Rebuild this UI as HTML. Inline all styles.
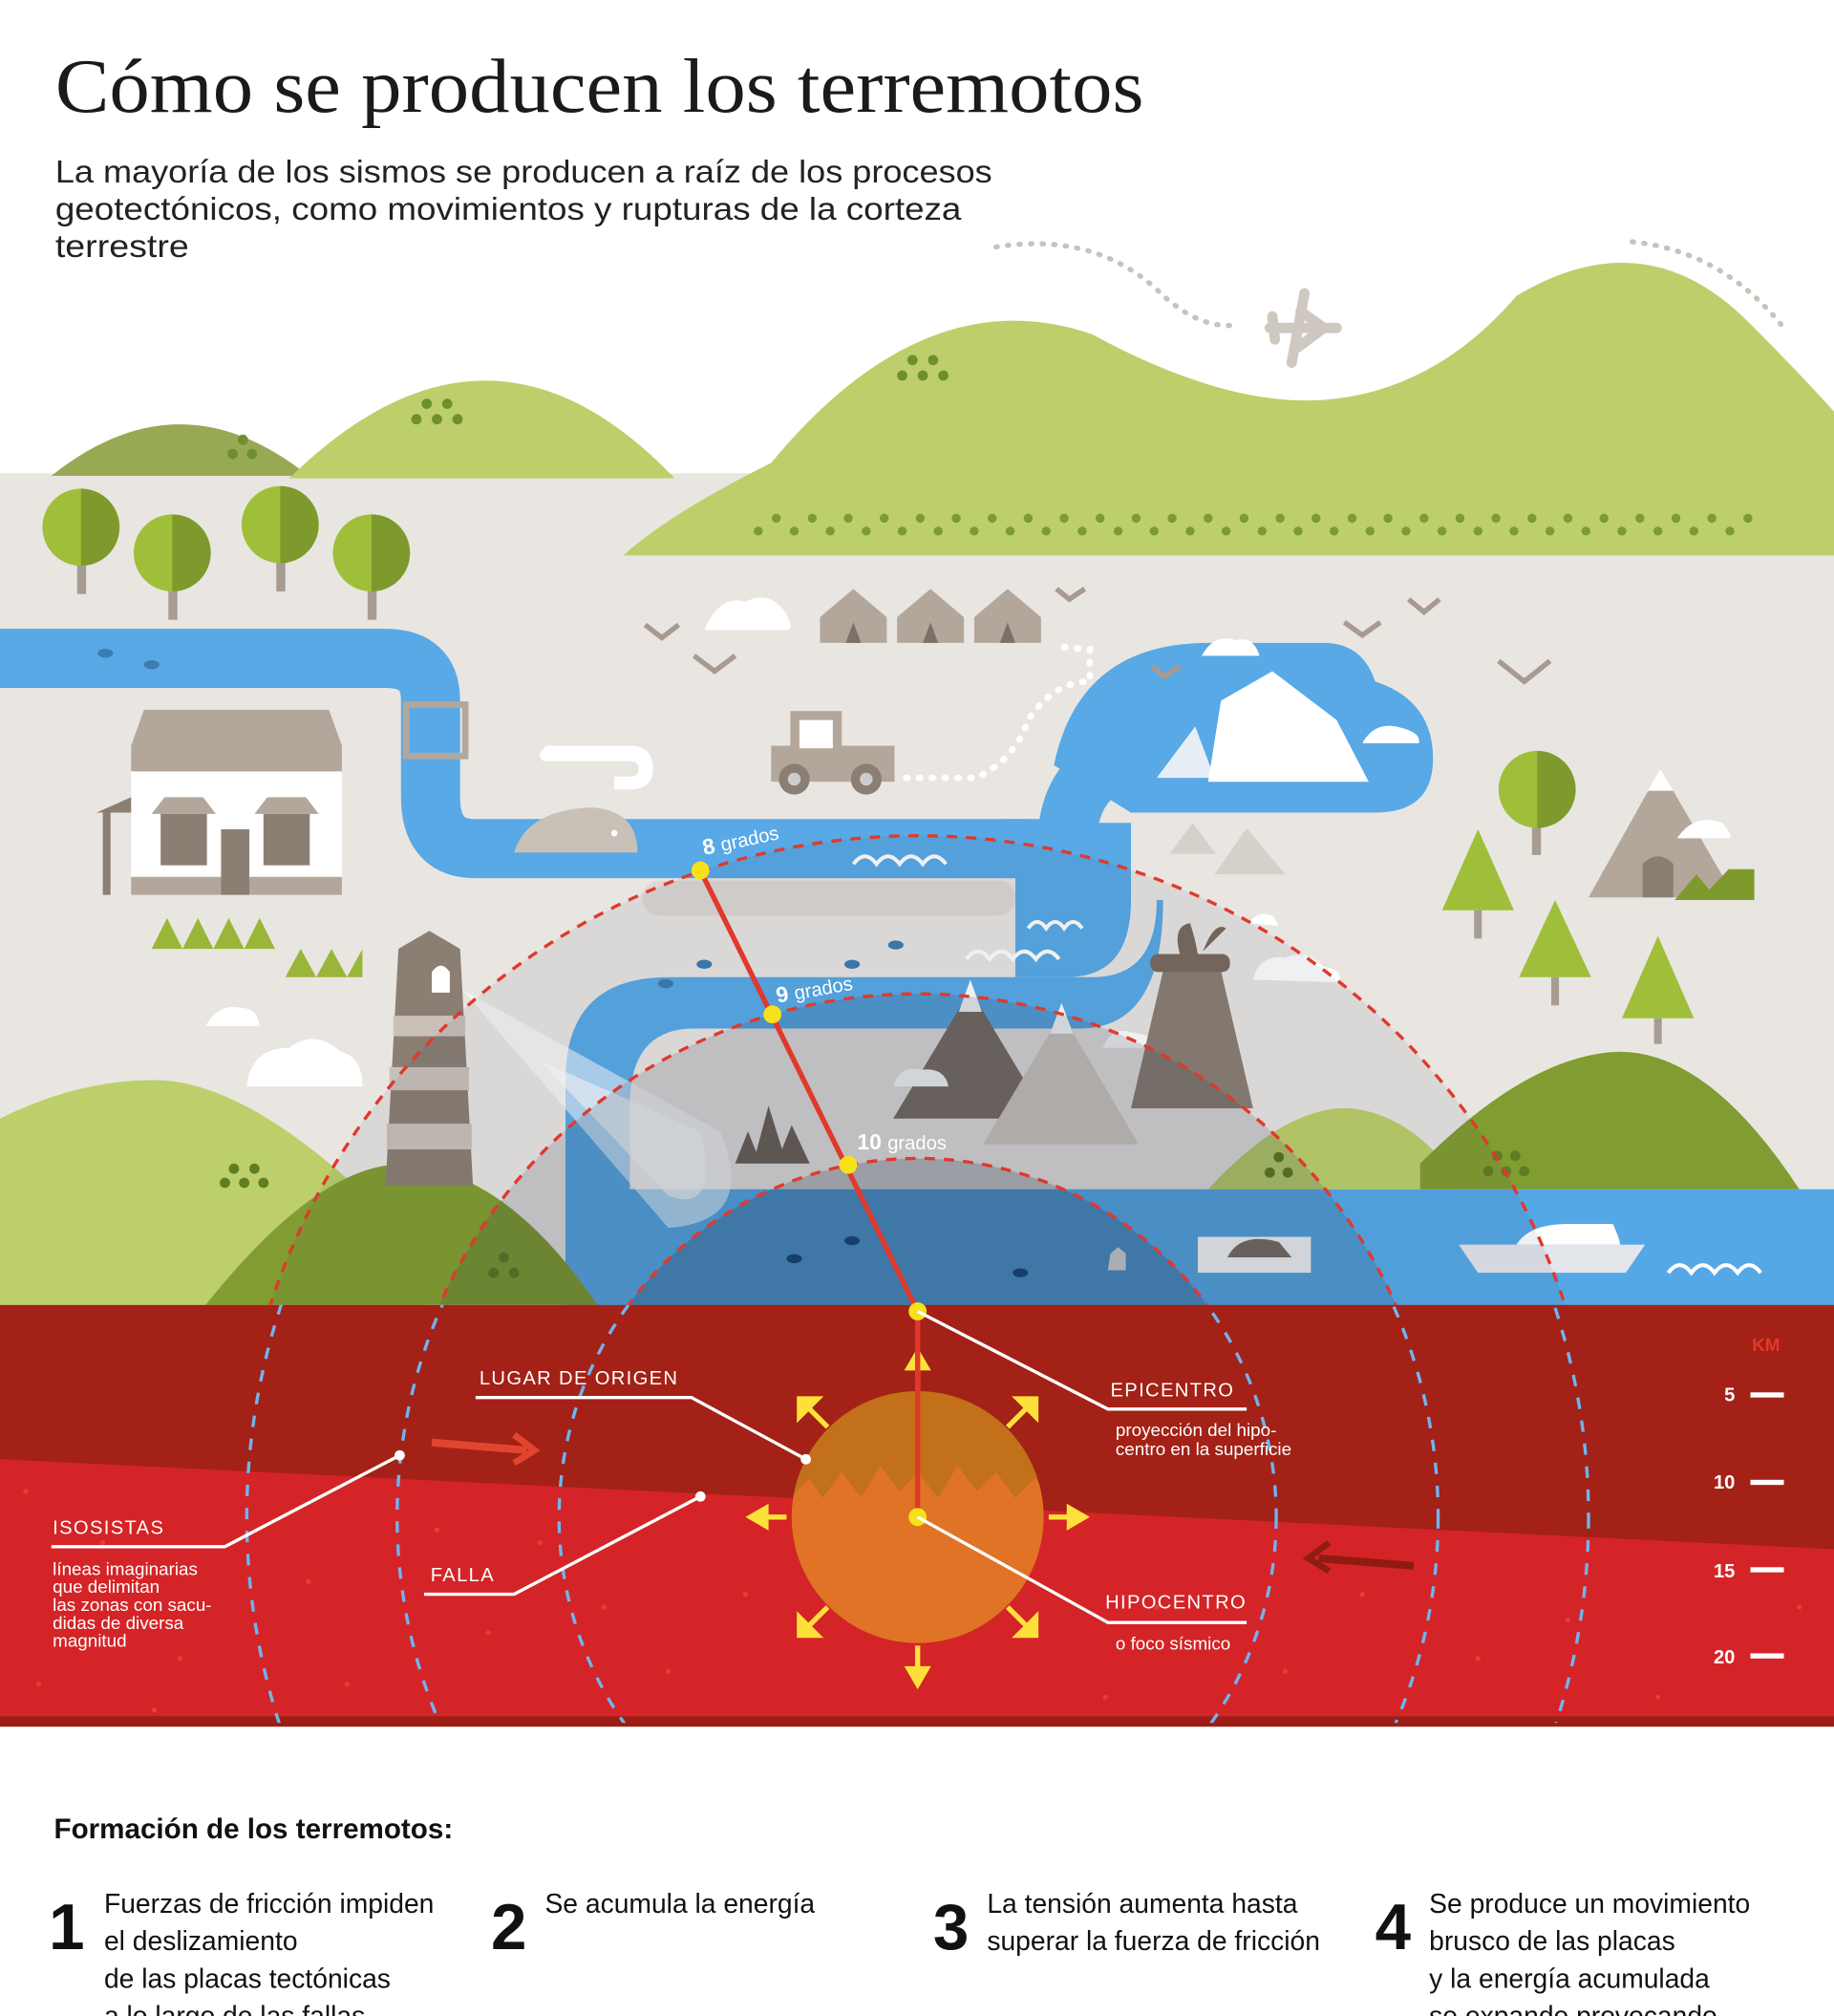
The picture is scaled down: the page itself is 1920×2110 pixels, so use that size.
<!DOCTYPE html>
<html><head><meta charset="utf-8"><style>
html,body{margin:0;padding:0;background:#fff;width:1920px;height:2110px;overflow:hidden}
svg{display:block}
.t{font-family:"Liberation Sans",sans-serif}
.n{font-family:"Liberation Sans Narrow","Liberation Sans",sans-serif}
</style></head><body>
<svg width="1920" height="2110" viewBox="0 0 1427 1568" xmlns="http://www.w3.org/2000/svg">
<defs>
<clipPath id="above"><rect x="0" y="0" width="1427" height="1015"/></clipPath>
<clipPath id="below"><rect x="0" y="1015" width="1427" height="325"/></clipPath>
<clipPath id="ball"><circle cx="714" cy="1180" r="98"/></clipPath>
</defs>
<rect width="1427" height="1568" fill="#fff"/>
<!-- title -->
<text x="43" y="87" font-family="Liberation Serif,serif" font-size="60" fill="#1a1a1a" textLength="847" lengthAdjust="spacingAndGlyphs">Cómo se producen los terremotos</text>
<text class="t" x="43" y="142" font-size="25" fill="#222" textLength="729" lengthAdjust="spacingAndGlyphs">La mayoría de los sismos se producen a raíz de los procesos</text>
<text class="t" x="43" y="171" font-size="25" fill="#222" textLength="705" lengthAdjust="spacingAndGlyphs">geotectónicos, como movimientos y rupturas de la corteza</text>
<text class="t" x="43" y="200" font-size="25" fill="#222" textLength="104" lengthAdjust="spacingAndGlyphs">terrestre</text>
<!-- dotted flight paths -->
<path d="M775 192 Q850 180 900 225 Q930 255 960 253" fill="none" stroke="#c9c2bb" stroke-width="4" stroke-dasharray="1 8" stroke-linecap="round"/>
<path d="M1270 188 Q1340 195 1388 255" fill="none" stroke="#c9c2bb" stroke-width="4" stroke-dasharray="1 8" stroke-linecap="round"/>
<path d="M988 255 L1040 255 M1015 228 L1005 282 M1012 242 L1030 255 L1010 270 M990 246 L992 264" stroke="#cfc8c1" stroke-width="8" stroke-linecap="round" fill="none"/>
<!-- ground beige -->
<rect x="0" y="368" width="1427" height="650" fill="#e9e6e2"/>
<!-- hills top -->
<path d="M40 370 Q140 290 240 370 Z" fill="#98a954"/>
<path d="M225 372 Q380 220 525 372 Z" fill="#bccf6a"/>
<path d="M485 432 Q520 400 600 360 Q720 215 850 260 Q960 320 1040 310 Q1120 300 1180 230 Q1280 170 1360 250 Q1400 290 1427 320 L1427 432 Z" fill="#bccf6a"/>
<g fill="#6f8f2e">
<circle cx="181" cy="353" r="4"/><circle cx="196" cy="353" r="4"/><circle cx="189" cy="342" r="4"/>
<circle cx="324" cy="326" r="4"/><circle cx="340" cy="326" r="4"/><circle cx="356" cy="326" r="4"/><circle cx="332" cy="314" r="4"/><circle cx="348" cy="314" r="4"/>
<circle cx="702" cy="292" r="4"/><circle cx="718" cy="292" r="4"/><circle cx="734" cy="292" r="4"/><circle cx="710" cy="280" r="4"/><circle cx="726" cy="280" r="4"/>
</g>
<!-- rows of dots -->
<g fill="#7c9a36">
<g id="r1">
<circle cx="590" cy="413" r="3.5"/><circle cx="604" cy="403" r="3.5"/><circle cx="618" cy="413" r="3.5"/><circle cx="632" cy="403" r="3.5"/><circle cx="646" cy="413" r="3.5"/><circle cx="660" cy="403" r="3.5"/><circle cx="674" cy="413" r="3.5"/><circle cx="688" cy="403" r="3.5"/><circle cx="702" cy="413" r="3.5"/><circle cx="716" cy="403" r="3.5"/><circle cx="730" cy="413" r="3.5"/><circle cx="744" cy="403" r="3.5"/><circle cx="758" cy="413" r="3.5"/><circle cx="772" cy="403" r="3.5"/><circle cx="786" cy="413" r="3.5"/><circle cx="800" cy="403" r="3.5"/><circle cx="814" cy="413" r="3.5"/><circle cx="828" cy="403" r="3.5"/><circle cx="842" cy="413" r="3.5"/><circle cx="856" cy="403" r="3.5"/><circle cx="870" cy="413" r="3.5"/><circle cx="884" cy="403" r="3.5"/><circle cx="898" cy="413" r="3.5"/><circle cx="912" cy="403" r="3.5"/><circle cx="926" cy="413" r="3.5"/><circle cx="940" cy="403" r="3.5"/><circle cx="954" cy="413" r="3.5"/><circle cx="968" cy="403" r="3.5"/>
</g>
<use href="#r1" x="392"/>
</g>
<!-- trees left -->
<g>
<rect x="60" y="420" width="7" height="42" fill="#a79c92"/><circle cx="63" cy="410" r="30" fill="#9fbf3a"/><path d="M63 380 A30 30 0 0 1 63 440 Z" fill="#7e9a2c"/>
<rect x="131" y="440" width="7" height="42" fill="#a79c92"/><circle cx="134" cy="430" r="30" fill="#9fbf3a"/><path d="M134 400 A30 30 0 0 1 134 460 Z" fill="#7e9a2c"/>
<rect x="215" y="418" width="7" height="42" fill="#a79c92"/><circle cx="218" cy="408" r="30" fill="#9fbf3a"/><path d="M218 378 A30 30 0 0 1 218 438 Z" fill="#7e9a2c"/>
<rect x="286" y="440" width="7" height="42" fill="#a79c92"/><circle cx="289" cy="430" r="30" fill="#9fbf3a"/><path d="M289 400 A30 30 0 0 1 289 460 Z" fill="#7e9a2c"/>
</g>
<!-- rivers -->
<g fill="none" stroke="#58a9e6" stroke-linejoin="round" stroke-linecap="butt">
<path d="M0 512 L300 512 Q335 512 335 545 L335 620 Q335 660 370 660 L800 660" stroke-width="46"/>
<path d="M780 660 L830 660 Q830 600 880 590 L1010 590" stroke-width="46"/>
</g>
<rect x="500" y="685" width="290" height="27" rx="13" fill="#dcd8d3"/>
<path d="M820 595 Q840 500 940 500 L1030 500 Q1060 500 1070 530 Q1115 545 1115 590 Q1115 632 1070 632 L880 632 Z" fill="#58a9e6"/>
<!-- lower water band -->
<rect x="440" y="925" width="987" height="92" fill="#55a8e6"/>
<path d="M440 840 Q440 760 520 760 L850 760 Q900 760 900 700 L905 700 Q905 800 840 800 L540 800 Q490 800 490 860 L490 1015 L440 1015 Z" fill="#58a9e6"/>
<path d="M790 640 L880 640 L880 700 Q880 760 830 760 L790 760 Z" fill="#58a9e6"/>
<rect x="500" y="685" width="290" height="27" rx="13" fill="#dcd8d3"/>
<!-- hills lower -->
<path d="M0 870 Q60 840 120 840 Q190 840 290 935 L330 1015 L0 1015 Z" fill="#bccf6a"/>
<path d="M160 1015 Q260 890 330 908 Q400 920 465 1015 Z" fill="#819c30"/>
<path d="M940 925 Q1000 860 1050 862 Q1100 866 1140 925 Z" fill="#bccf6a"/>
<path d="M1105 905 Q1190 820 1260 818 Q1330 818 1400 925 L1105 925 Z" fill="#819c30"/>
<g fill="#5f7d22"><circle cx="175" cy="920" r="4"/><circle cx="190" cy="920" r="4"/><circle cx="205" cy="920" r="4"/><circle cx="182" cy="909" r="4"/><circle cx="198" cy="909" r="4"/>
<circle cx="384" cy="990" r="4"/><circle cx="400" cy="990" r="4"/><circle cx="392" cy="978" r="4"/>
<circle cx="1158" cy="911" r="4"/><circle cx="1172" cy="911" r="4"/><circle cx="1186" cy="911" r="4"/><circle cx="1165" cy="899" r="4"/><circle cx="1179" cy="899" r="4"/>
<circle cx="988" cy="912" r="4"/><circle cx="1002" cy="912" r="4"/><circle cx="995" cy="900" r="4"/></g>
<!-- house -->
<rect x="102" y="600" width="164" height="96" fill="#fff"/>
<path d="M112 552 L256 552 L266 580 L266 600 L102 600 L102 580 Z" fill="#b3a79c"/>
<rect x="102" y="682" width="164" height="14" fill="#b3a79c"/>
<rect x="125" y="633" width="36" height="40" fill="#8b7e73"/><rect x="205" y="633" width="36" height="40" fill="#8b7e73"/>
<rect x="172" y="645" width="22" height="51" fill="#8b7e73"/>
<path d="M118 633 L128 620 L158 620 L168 633 Z M198 633 L208 620 L238 620 L248 633 Z" fill="#b3a79c"/>
<path d="M75 632 L102 620 L102 632 Z" fill="#8b7e73"/><rect x="80" y="632" width="6" height="64" fill="#8b7e73"/>
<rect x="316" y="548" width="46" height="40" fill="none" stroke="#b3a79c" stroke-width="5"/>
<path d="M118 738 L130 714 L142 738 L154 714 L166 738 L178 714 L190 738 L202 714 L214 738 Z" fill="#99b638"/>
<path d="M222 760 L234 738 L246 760 L258 738 L270 760 L282 738 L282 760 Z" fill="#99b638"/>
<!-- whale, clouds, tents, truck -->
<path d="M380 663 L400 663 Q410 630 460 628 Q496 630 496 663 Z" fill="#c9c0b8"/>
<circle cx="478" cy="648" r="2.5" fill="#fff"/>
<path d="M425 580 L490 580 Q508 580 508 598 Q508 614 490 614 L478 614 L478 604 L490 604 Q497 604 497 598 Q497 592 490 592 L425 592 Q420 592 420 586 Z" fill="#fff"/>
<path d="M548 490 Q560 462 580 468 Q600 458 612 478 Q618 490 612 490 Z" fill="#fff"/>
<g fill="#b3a79c"><path d="M638 500 L638 480 L664 458 L690 480 L690 500 Z"/><path d="M698 500 L698 480 L724 458 L750 480 L750 500 Z"/><path d="M758 500 L758 480 L784 458 L810 480 L810 500 Z"/></g>
<g fill="#7e7066"><path d="M658 500 L664 484 L670 500 Z"/><path d="M718 500 L724 484 L730 500 Z"/><path d="M778 500 L784 484 L790 500 Z"/></g>
<rect x="600" y="580" width="96" height="28" fill="#b3a79c"/><rect x="615" y="553" width="40" height="30" fill="#b3a79c"/><rect x="622" y="560" width="26" height="22" fill="#fff"/>
<circle cx="618" cy="606" r="12" fill="#8b7e73"/><circle cx="618" cy="606" r="5" fill="#ccc"/><circle cx="674" cy="606" r="12" fill="#8b7e73"/><circle cx="674" cy="606" r="5" fill="#ccc"/>
<path d="M705 605 L760 605 Q790 590 800 560 Q820 530 848 530 L848 505 L825 503" fill="none" stroke="#fff" stroke-width="5" stroke-dasharray="1 9" stroke-linecap="round"/>
<g fill="none" stroke="#a89a8e" stroke-width="4"><path d="M502 486 L515 496 L528 486"/><path d="M540 510 L556 522 L572 510"/><path d="M822 458 L832 466 L844 458"/><path d="M1046 484 L1060 494 L1074 484"/><path d="M1096 466 L1108 476 L1120 466"/><path d="M896 518 L906 526 L918 518"/><path d="M1166 514 L1186 530 L1206 514"/></g>
<!-- iceberg -->
<path d="M900 605 L930 565 L945 605 Z" fill="#e8eef5"/><path d="M940 608 L950 545 L990 522 L1040 560 L1065 608 Z" fill="#fff"/>
<path d="M935 510 Q945 492 962 498 Q975 494 980 510 Z M1060 578 Q1070 560 1090 566 Q1106 570 1104 578 Z" fill="#fff"/>
<!-- right trees, mountain -->
<rect x="1192" y="630" width="7" height="35" fill="#a79c92"/><circle cx="1196" cy="614" r="30" fill="#9fbf3a"/><path d="M1196 584 A30 30 0 0 1 1196 644 Z" fill="#7e9a2c"/>
<g fill="#9fbf3a"><path d="M1122 708 L1150 645 L1178 708 Z"/><path d="M1182 760 L1210 700 L1238 760 Z"/><path d="M1262 792 L1290 728 L1318 792 Z"/></g>
<g fill="#a79c92"><rect x="1147" y="708" width="6" height="22"/><rect x="1207" y="760" width="6" height="22"/><rect x="1287" y="792" width="6" height="20"/></g>
<path d="M1236 698 L1292 598 L1350 698 Z" fill="#b3a79c"/><path d="M1282 615 L1292 598 L1302 615 Z" fill="#fff"/><path d="M1278 698 L1278 672 Q1290 660 1302 672 L1302 698 Z" fill="#8b7e73"/>
<path d="M1303 700 L1320 680 L1330 692 L1345 676 L1365 676 L1365 700 Z" fill="#7e9a2c"/>
<path d="M1305 652 Q1318 632 1340 640 Q1350 652 1345 652 Z" fill="#fff"/>
<path d="M910 664 L928 640 L946 664 Z M945 680 L970 644 L1000 680 Z" fill="#d6d0ca"/>
<!-- lighthouse -->
<path d="M310 738 L334 724 L358 738 L368 922 L300 922 Z" fill="#8b7e73"/>
<g fill="#c9c0b8"><rect x="306" y="790" width="56" height="16"/><rect x="303" y="830" width="62" height="18"/><rect x="301" y="874" width="66" height="20"/></g>
<path d="M336 772 L336 756 Q343 746 350 756 L350 772 Z" fill="#fff"/>
<path d="M360 770 L560 880 Q590 950 520 955 Z" fill="#fff" opacity="0.55"/>
<path d="M420 825 L545 880 Q560 945 520 930 Z" fill="#fff" opacity="0.6"/>
<!-- clouds left -->
<path d="M160 798 Q170 780 188 784 Q200 784 202 798 Z M192 845 Q195 815 225 815 Q245 800 265 818 Q282 822 282 845 Z" fill="#fff"/>
<!-- mountains and volcano -->
<path d="M695 870 L755 770 L815 870 Z" fill="#7c6e64"/><path d="M746 787 L755 762 L764 787 Z" fill="#fff"/>
<path d="M765 890 L826 788 L886 890 Z" fill="#d4ccc4"/><path d="M817 804 L826 780 L835 804 Z" fill="#fff"/>
<path d="M695 845 Q700 828 717 832 Q735 830 738 845 Z M858 815 Q865 798 880 803 Q900 805 902 815 Z M975 762 Q980 742 1000 745 Q1015 738 1030 752 Q1045 754 1042 764 Z M972 718 Q978 708 990 712 L995 720 Z" fill="#fff"/>
<path d="M880 862 L905 755 L950 755 L975 862 Z" fill="#8b7e73"/>
<rect x="895" y="742" width="62" height="14" rx="6" fill="#7a6a5e"/>
<path d="M918 742 Q912 720 926 718 Q930 730 932 742 Z M936 740 Q945 716 954 722 Z" fill="#7a6a5e"/>
<path d="M572 905 L582 880 L592 905 Z M586 905 L598 860 L612 905 Z M604 905 L616 875 L630 905 Z" fill="#6f6259"/>
<!-- boats, fish -->
<path d="M932 962 L1020 962 L1020 990 L932 990 Z" fill="#fff"/><path d="M955 978 Q965 958 995 966 L1005 978 Z" fill="#7c6e64"/>
<path d="M1135 968 L1280 968 L1265 990 L1150 990 Z" fill="#e3e6ea"/><path d="M1180 968 Q1190 952 1220 952 L1255 952 Q1262 968 1260 968 Z" fill="#fff"/>
<path d="M862 988 L864 975 L870 970 L876 975 L876 988 Z" fill="#fff"/>
<g fill="none" stroke="#fff" stroke-width="3"><path d="M1298 990 q9 -12 18 0 q9 -12 18 0 q9 -12 18 0 q9 -12 18 0"/><path d="M664 672 q9 -12 18 0 q9 -12 18 0 q9 -12 18 0 q9 -12 18 0"/><path d="M800 722 q7 -10 14 0 q7 -10 14 0 q7 -10 14 0"/><path d="M752 746 q9 -12 18 0 q9 -12 18 0 q9 -12 18 0 q9 -12 18 0"/></g>
<g fill="#3d7cb0"><ellipse cx="82" cy="508" rx="6" ry="3.5"/><ellipse cx="118" cy="517" rx="6" ry="3.5"/><ellipse cx="548" cy="750" rx="6" ry="3.5"/><ellipse cx="518" cy="765" rx="6" ry="3.5"/><ellipse cx="663" cy="750" rx="6" ry="3.5"/><ellipse cx="697" cy="735" rx="6" ry="3.5"/></g>
<g fill="#154e85"><ellipse cx="618" cy="979" rx="6" ry="3.5"/><ellipse cx="663" cy="965" rx="6" ry="3.5"/><ellipse cx="794" cy="990" rx="6" ry="3.5"/></g>
<!-- circle shading above ground -->
<g clip-path="url(#above)">
<circle cx="714" cy="1180" r="530" fill="#1a2a40" opacity="0.07"/>
<circle cx="714" cy="1180" r="407" fill="#1a2a40" opacity="0.14"/>
<circle cx="714" cy="1180" r="279" fill="#1a2a40" opacity="0.22"/>
<g fill="none" stroke="#e0392c" stroke-width="2.5" stroke-dasharray="8 7">
<circle cx="714" cy="1180" r="530"/><circle cx="714" cy="1180" r="407"/><circle cx="714" cy="1180" r="279"/></g>
</g>
<!-- underground -->
<rect x="0" y="1015" width="1427" height="328" fill="#a32116"/>
<path d="M0 1135 L1427 1205 L1427 1335 L0 1335 Z" fill="#d42427"/>
<rect x="0" y="1335" width="1427" height="8" fill="#9e1d15"/>
<g fill="#ea4a45" opacity="0.7">
<circle cx="30" cy="1310" r="2"/><circle cx="80" cy="1200" r="2"/><circle cx="140" cy="1290" r="2"/><circle cx="240" cy="1230" r="2"/><circle cx="270" cy="1310" r="2"/><circle cx="380" cy="1270" r="2"/><circle cx="420" cy="1200" r="2"/><circle cx="520" cy="1300" r="2"/><circle cx="580" cy="1240" r="2"/><circle cx="900" cy="1250" r="2"/><circle cx="1000" cy="1300" r="2"/><circle cx="1060" cy="1240" r="2"/><circle cx="1150" cy="1290" r="2"/><circle cx="1220" cy="1260" r="2"/><circle cx="1290" cy="1320" r="2"/><circle cx="1400" cy="1250" r="2"/><circle cx="20" cy="1160" r="2"/><circle cx="340" cy="1190" r="2"/><circle cx="470" cy="1250" r="2"/><circle cx="120" cy="1330" r="2"/><circle cx="860" cy="1320" r="2"/></g>
<g clip-path="url(#below)" fill="none" stroke="#6fb4f0" stroke-width="2.5" stroke-dasharray="9 9">
<circle cx="714" cy="1180" r="522"/><circle cx="714" cy="1180" r="405"/><circle cx="714" cy="1180" r="279"/></g>
<!-- plate arrows -->
<path d="M336 1122 L410 1128" stroke="#e2452e" stroke-width="6"/><path d="M400 1116 L416 1128 L400 1138" stroke="#e2452e" stroke-width="5" fill="none"/>
<path d="M1100 1218 L1026 1212" stroke="#8f1b12" stroke-width="6"/><path d="M1034 1200 L1018 1212 L1034 1222" stroke="#8f1b12" stroke-width="5" fill="none"/>
<!-- ball -->
<circle cx="714" cy="1180" r="98" fill="#c27019"/>
<path clip-path="url(#ball)" d="M610 1170 L630 1150 L640 1165 L655 1145 L670 1165 L685 1140 L700 1160 L714 1145 L730 1165 L745 1140 L760 1160 L775 1145 L790 1165 L805 1150 L820 1165 L820 1290 L610 1290 Z" fill="#e07326"/>
<!-- yellow arrows -->
<g stroke="#fde13a" stroke-width="4" fill="#fde13a">
<path d="M714 1082 L714 1060"/><path d="M707 1064 L714 1052 L721 1064 Z"/>
<path d="M714 1280 L714 1302"/><path d="M707 1298 L714 1310 L721 1298 Z"/>
<path d="M612 1180 L592 1180"/><path d="M596 1173 L584 1180 L596 1187 Z"/>
<path d="M816 1180 L836 1180"/><path d="M832 1173 L844 1180 L832 1187 Z"/>
<path d="M644 1110 L628 1094"/><path d="M622 1102 L622 1088 L636 1088 Z"/>
<path d="M784 1110 L800 1094"/><path d="M806 1102 L806 1088 L792 1088 Z"/>
<path d="M644 1250 L628 1266"/><path d="M622 1258 L622 1272 L636 1272 Z"/>
<path d="M784 1250 L800 1266"/><path d="M806 1258 L806 1272 L792 1272 Z"/>
</g>
<!-- epicenter line -->
<path d="M545 677 L714 1020 L714 1180" stroke="#e0392c" stroke-width="4" fill="none"/>
<g fill="#f7e11b"><circle cx="545" cy="677" r="7"/><circle cx="601" cy="789" r="7"/><circle cx="660" cy="906" r="7"/><circle cx="714" cy="1020" r="7"/><circle cx="714" cy="1180" r="7"/></g>
<g class="t" fill="#fff" font-weight="bold"><text x="548" y="665" font-size="17" transform="rotate(-12 548 665)">8 <tspan font-weight="normal" font-size="15">grados</tspan></text>
<text x="605" y="780" font-size="17" transform="rotate(-10 605 780)">9 <tspan font-weight="normal" font-size="15">grados</tspan></text>
<text x="667" y="894" font-size="17">10 <tspan font-weight="normal" font-size="15">grados</tspan></text></g>
<!-- leader lines -->
<g stroke="#fff" stroke-width="2.5" fill="none">
<path d="M714 1020 L862 1096 L970 1096"/><path d="M714 1180 L862 1262 L970 1262"/>
<path d="M627 1135 L538 1087 L370 1087"/><path d="M545 1164 L400 1240 L330 1240"/>
<path d="M311 1132 L175 1203 L40 1203"/></g>
<g fill="#fff"><circle cx="627" cy="1135" r="4"/><circle cx="545" cy="1164" r="4"/><circle cx="311" cy="1132" r="4"/></g>
<g class="t" fill="#fff" font-size="15">
<text x="864" y="1086" letter-spacing="1">EPICENTRO</text>
<text x="868" y="1117" font-size="14">proyección del hipo-</text><text x="868" y="1132" font-size="14">centro en la superficie</text>
<text x="860" y="1251" letter-spacing="1">HIPOCENTRO</text>
<text x="868" y="1283" font-size="14">o foco sísmico</text>
<text x="373" y="1077" letter-spacing="1">LUGAR DE ORIGEN</text>
<text x="335" y="1230" letter-spacing="1">FALLA</text>
<text x="41" y="1193" letter-spacing="1">ISOSISTAS</text>
<g font-size="14"><text x="41" y="1225">líneas imaginarias</text><text x="41" y="1239">que delimitan</text><text x="41" y="1253">las zonas con sacu-</text><text x="41" y="1267">didas de diversa</text><text x="41" y="1281">magnitud</text></g>
</g>
<!-- km scale -->
<g class="t" font-size="15" fill="#fff" font-weight="bold" text-anchor="end">
<text x="1385" y="1051" fill="#e23a2a" font-size="14">KM</text>
<text x="1350" y="1090">5</text><text x="1350" y="1158">10</text><text x="1350" y="1227">15</text><text x="1350" y="1294">20</text></g>
<g fill="#fff"><rect x="1362" y="1083" width="26" height="4"/><rect x="1362" y="1151" width="26" height="4"/><rect x="1362" y="1219" width="26" height="4"/><rect x="1362" y="1286" width="26" height="4"/></g>
<!-- bottom text -->
<text class="n" x="42" y="1430" font-size="22" font-weight="bold" fill="#111">Formación de los terremotos:</text>
<g class="n" fill="#111">
<text x="38" y="1516" font-size="50" font-weight="bold">1</text>
<text x="382" y="1516" font-size="50" font-weight="bold">2</text>
<text x="726" y="1516" font-size="50" font-weight="bold">3</text>
<text x="1070" y="1516" font-size="50" font-weight="bold">4</text>
<g font-size="21">
<text x="81" y="1488">Fuerzas de fricción impiden</text><text x="81" y="1517">el deslizamiento</text><text x="81" y="1546">de las placas tectónicas</text><text x="81" y="1575">a lo largo de las fallas</text>
<text x="424" y="1488">Se acumula la energía</text>
<text x="768" y="1488">La tensión aumenta hasta</text><text x="768" y="1517">superar la fuerza de fricción</text>
<text x="1112" y="1488">Se produce un movimiento</text><text x="1112" y="1517">brusco de las placas</text><text x="1112" y="1546">y la energía acumulada</text><text x="1112" y="1575">se expande provocando</text>
</g></g>
</svg>
</body></html>
